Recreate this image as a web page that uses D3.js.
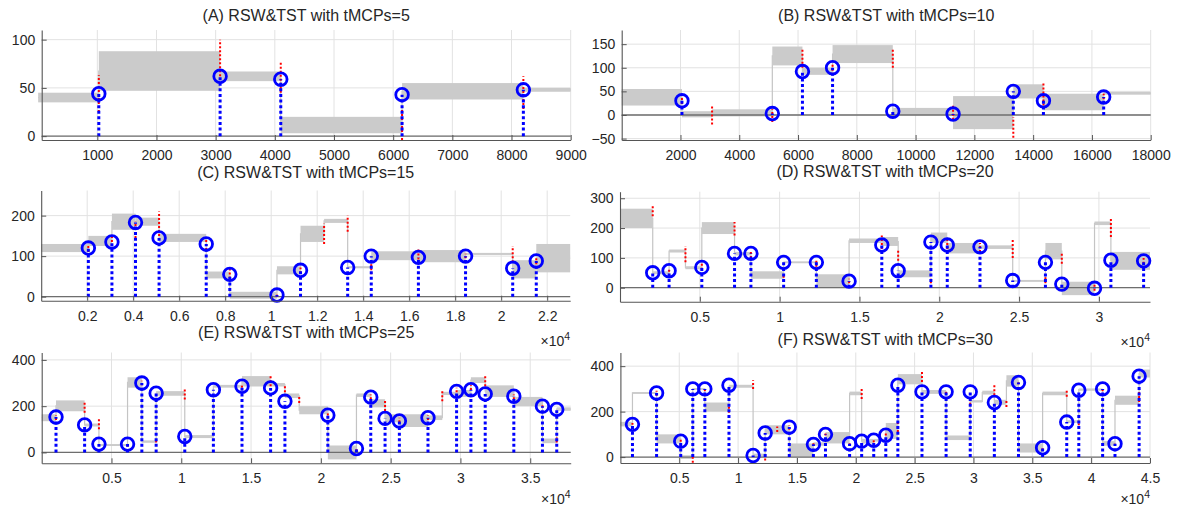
<!DOCTYPE html>
<html>
<head>
<meta charset="utf-8">
<script src="https://d3js.org/d3.v7.min.js"></script>
<style>
  body { margin: 0; background: #fff; }
  svg text { font-family: "Liberation Sans", Arial, sans-serif; fill: #262626; }
</style>
</head>
<body>
<svg width="1186" height="510"></svg>
<script>
// signal bands: [start, end, low, high]; found MCPs: [x, y]; true MCPs: [x, y0, y1]
var aBands = [[0,1025,35,45],[1025,3075,47,88],[3075,4100,57,67],[4100,6150,3,20],[6150,8200,38,55],[8200,9000,46,50]];
var aFound = [[1025,44],[3075,62],[4100,59],[6150,43],[8200,48]];
var aTrue = [[1025,25,63],[3075,62,100],[4100,45,78],[6150,-4,30],[8200,28,62]];

var bBands = [[0,2050,20,55],[2050,3075,-5,8],[3075,5125,-3,12],[5125,6150,105,145],[6150,7175,85,100],
  [7175,9225,110,148],[9225,11275,0,15],[11275,13325,-30,40],[13325,14350,35,65],[14350,16400,10,45],[16400,18000,43,49]];
var bFound = [[2050,30],[5125,3],[6150,92],[7175,100],[9225,8],[11275,2],[13325,50],[14350,30],[16400,38]];
var bTrue = [[2050,15,40],[3075,-20,18],[5125,-15,12],[6150,100,142],[7175,85,110],[9225,100,138],
  [11275,-10,20],[13325,-48,-5],[14350,20,68],[16400,25,45]];

var cBands = [[0,2050,110,130],[2050,3075,125,150],[3075,4100,165,205],[4100,5125,175,195],[5125,7175,135,155],
  [7175,8200,45,62],[8200,10250,-5,12],[10250,11275,55,75],[11275,12300,135,175],[12300,13325,182,192],
  [13325,14350,70,75],[14350,16400,90,112],[16400,18450,85,115],[18450,20500,103,108],[20500,21525,45,90],[21525,23000,60,130]];
var cFound = [[2050,120],[3075,135],[4100,183],[5125,145],[7175,130],[8200,55],[10250,4],[11275,65],
  [13325,72],[14350,100],[16400,97],[18450,100],[20500,70],[21525,88]];
var cTrue = [[2050,110,130],[3075,125,150],[4100,145,185],[5125,140,210],[7175,115,145],[8200,45,72],[10250,0,8],
  [11275,58,72],[12300,130,180],[13325,160,200],[14350,55,95],[16400,92,118],[18450,95,106],[20500,85,125],[21525,80,95]];

var dBands = [[0,2050,200,265],[2050,3075,45,55],[3075,4100,118,128],[4100,5125,62,72],[5125,7175,180,220],
  [7175,8200,108,120],[8200,10250,30,55],[10250,12300,82,88],[12300,14350,0,45],[14350,16400,150,165],
  [16400,17425,140,170],[17425,19475,35,58],[19475,20500,150,185],[20500,22550,115,150],[22550,24600,130,142],
  [24600,26650,20,26],[26650,27675,95,150],[27675,29725,-25,20],[29725,30750,210,222],[30750,33200,60,120]];
var dFound = [[2050,50],[3075,57],[5125,68],[7175,115],[8200,115],[10250,85],[12300,85],[14350,22],[16400,143],
  [17425,57],[19475,153],[20500,143],[22550,137],[24600,24],[26650,85],[27675,12],[29725,-2],[30750,92],[32800,90]];
var dTrue = [[2050,240,280],[3075,40,65],[4100,85,140],[5125,60,80],[7175,175,220],[8200,100,125],[10250,20,40],
  [12300,70,90],[14350,15,30],[16400,130,175],[17425,90,130],[19475,15,30],[20500,130,160],[22550,120,150],
  [24600,100,160],[26650,15,35],[27675,80,120],[29725,-10,10],[30750,170,235],[32800,80,100]];

var eBands = [[0,1025,135,165],[1025,3075,178,225],[3075,4100,112,125],[4100,6150,28,36],[6150,7175,280,325],
  [7175,8200,42,52],[8200,10250,245,265],[10250,12300,62,75],[12300,14350,280,292],[14350,16400,285,330],
  [16400,17425,285,300],[17425,18450,235,255],[18450,20500,165,200],[20500,22550,-30,30],[22550,23575,240,255],
  [23575,24600,195,230],[24600,25625,130,165],[25625,27675,110,165],[27675,28700,140,160],[28700,29725,248,262],
  [29725,30750,240,270],[30750,31775,300,325],[31775,33825,240,290],[33825,35875,200,240],[35875,36900,40,60],[36900,37900,180,195]];
var eFound = [[1025,153],[3075,119],[4100,36],[6150,36],[7175,300],[8200,256],[10250,69],[12300,271],[14350,286],
  [16400,279],[17425,221],[20500,161],[22550,17],[23575,239],[24600,147],[25625,136],[27675,150],[29725,264],
  [30750,271],[31775,253],[33825,243],[35875,200],[36900,186]];
var eTrue = [[1025,140,160],[3075,171,221],[4100,100,143],[6150,25,40],[7175,290,310],[8200,43,57],[10250,229,279],
  [12300,50,64],[14350,280,295],[16400,286,336],[17425,243,293],[18450,214,243],[20500,160,175],[22550,5,15],
  [23575,230,250],[24600,179,229],[25625,130,150],[27675,140,160],[28700,221,271],[29725,260,280],[30750,270,290],
  [31775,286,329],[33825,230,250],[35875,195,210],[36900,43,64]];

var fBands = [[0,1025,135,155],[1025,3075,278,286],[3075,5125,60,100],[5125,6150,-8,8],[6150,7175,296,304],
  [7175,9225,200,240],[9225,11275,305,318],[11275,12300,0,15],[12300,14350,100,140],[14350,16400,0,60],
  [16400,17425,50,65],[17425,19475,60,110],[19475,20500,272,288],[20500,21525,60,80],[21525,22550,68,80],
  [22550,23575,80,150],[23575,25625,320,365],[25625,27675,278,295],[27675,29725,75,95],[29725,30750,240,250],
  [30750,31775,275,292],[31775,32800,230,252],[32800,33825,310,360],[33825,35875,20,60],[35875,37925,272,288],
  [37925,38950,150,162],[38950,40975,292,302],[40975,42025,50,70],[42025,44075,230,270],[44075,45000,350,385]];
var fFound = [[1025,144],[3075,282],[5125,70],[6150,300],[7175,300],[9225,316],[11275,7],[12300,106],[14350,132],
  [16400,56],[17425,100],[19475,59],[20500,70],[21525,74],[22550,96],[23575,316],[25625,287],[27675,287],
  [29725,287],[31775,240],[33825,328],[35875,41],[37925,154],[38950,294],[40975,300],[42025,59],[44075,356]];
var fTrue = [[1025,125,150],[3075,270,292],[5125,50,80],[6150,-25,0],[7175,290,305],[9225,195,225],[11275,300,338],
  [12300,-15,15],[13325,110,135],[14350,120,140],[16400,52,68],[17425,95,110],[19475,52,65],[20500,256,300],
  [21525,65,80],[22550,95,110],[23575,110,154],[25625,330,378],[27675,278,295],[29725,230,250],[31775,272,316],
  [32800,220,250],[33825,320,335],[35875,30,45],[37925,265,300],[38950,140,160],[40975,290,305],[42025,50,65],[44075,225,300]];

// tick values
var aXTicks = d3.range(1000, 9001, 1000), aYTicks = [0, 50, 100];
var bXTicks = d3.range(2000, 18001, 2000), bYTicks = [-50, 0, 50, 100, 150];
var cXTicks = d3.range(2000, 22001, 2000), cYTicks = [0, 100, 200];
var dXTicks = d3.range(5000, 30001, 5000), dYTicks = [0, 100, 200, 300];
var eXTicks = d3.range(5000, 35001, 5000), eYTicks = [0, 200, 400];
var fXTicks = d3.range(5000, 45001, 5000), fYTicks = [0, 200, 400];

var panels = [
  {title: "(A) RSW&TST with tMCPs=5", bands: aBands, found: aFound, truth: aTrue, xd: [60, 9000], yd: [-4, 110],
   xt: aXTicks, yt: aYTicks, exp: false, box: [41.7, 570.7, 30, 140], ty: 17},
  {title: "(B) RSW&TST with tMCPs=10", bands: bBands, found: bFound, truth: bTrue, xd: [0, 18000], yd: [-53, 180],
   xt: bXTicks, yt: bYTicks, exp: false, box: [621.7, 1150.7, 30, 140], ty: 17},
  {title: "(C) RSW&TST with tMCPs=15", bands: cBands, found: cFound, truth: cTrue, xd: [0, 23000], yd: [-10, 262],
   xt: cXTicks, yt: cYTicks, exp: true, box: [41.2, 570.2, 190.5, 300.7], ty: 174},
  {title: "(D) RSW&TST with tMCPs=20", bands: dBands, found: dFound, truth: dTrue, xd: [0, 33200], yd: [-47, 322],
   xt: dXTicks, yt: dYTicks, exp: true, box: [620, 1150, 191.7, 301.7], ty: 173},
  {title: "(E) RSW&TST with tMCPs=25", bands: eBands, found: eFound, truth: eTrue, xd: [0, 37900], yd: [-47, 432],
   xt: eXTicks, yt: eYTicks, exp: true, box: [41.7, 570.7, 352.5, 463.3], ty: 334},
  {title: "(F) RSW&TST with tMCPs=30", bands: fBands, found: fFound, truth: fTrue, xd: [0, 45000], yd: [-26, 460],
   xt: fXTicks, yt: fYTicks, exp: true, box: [620.4, 1150, 352.5, 463], ty: 341}
];

var svg = d3.select("svg");

panels.forEach(drawPanel);

function drawPanel(p) {
  var g = svg.append("g");
  var x = d3.scaleLinear().domain(p.xd).range([p.box[0], p.box[1]]);
  var y = d3.scaleLinear().domain(p.yd).range([p.box[3], p.box[2]]);

  // grid
  g.selectAll(".gx").data(p.xt).enter().append("line")
    .attr("x1", d => x(d)).attr("x2", d => x(d))
    .attr("y1", p.box[2]).attr("y2", p.box[3])
    .attr("stroke", "#e2e2e2").attr("stroke-width", 1);
  g.selectAll(".gy").data(p.yt).enter().append("line")
    .attr("x1", p.box[0]).attr("x2", p.box[1])
    .attr("y1", d => y(d)).attr("y2", d => y(d))
    .attr("stroke", "#e2e2e2").attr("stroke-width", 1);

  // signal: thin step line through band centres, then the noisy band
  var pts = p.bands.map(b => [b[0], (b[2] + b[3]) / 2]);
  var last = p.bands[p.bands.length - 1];
  pts.push([last[1], (last[2] + last[3]) / 2]);
  g.append("path")
    .attr("d", d3.line().x(d => x(d[0])).y(d => y(d[1])).curve(d3.curveStepAfter)(pts))
    .attr("fill", "none").attr("stroke", "#c4c4c4").attr("stroke-width", 1.2);
  g.selectAll(".band").data(p.bands).enter().append("rect")
    .attr("x", d => x(d[0])).attr("width", d => x(d[1]) - x(d[0]))
    .attr("y", d => y(d[3])).attr("height", d => y(d[2]) - y(d[3]))
    .attr("fill", "#cbcbcb");

  // zero line
  g.append("line")
    .attr("x1", p.box[0]).attr("x2", p.box[1])
    .attr("y1", y(0)).attr("y2", y(0))
    .attr("stroke", "#6e6e6e").attr("stroke-width", 1.3);

  // true change points (red dotted)
  g.selectAll(".tr").data(p.truth).enter().append("line")
    .attr("x1", d => x(d[0])).attr("x2", d => x(d[0]))
    .attr("y1", d => y(d[1])).attr("y2", d => y(d[2]))
    .attr("stroke", "#ff0000").attr("stroke-width", 2)
    .attr("stroke-dasharray", "2,2");

  // detected change points: dotted stems + circles
  g.selectAll(".st").data(p.found).enter().append("line")
    .attr("x1", d => x(d[0])).attr("x2", d => x(d[0]))
    .attr("y1", y(0)).attr("y2", d => y(d[1]))
    .attr("stroke", "#0000ff").attr("stroke-width", 3)
    .attr("stroke-dasharray", "3,2.6");
  g.selectAll(".ci").data(p.found).enter().append("circle")
    .attr("cx", d => x(d[0])).attr("cy", d => y(d[1])).attr("r", 6.3)
    .attr("fill", "none").attr("stroke", "#0000ff").attr("stroke-width", 2.8);

  // axes
  var fmt = p.exp ? (d => d3.format("~g")(d / 1e4)) : d3.format("d");
  var xa = g.append("g").attr("transform", "translate(0," + p.box[3] + ")")
    .call(d3.axisBottom(x).tickValues(p.xt).tickFormat(fmt).tickSizeInner(-5).tickSizeOuter(0).tickPadding(10));
  var ya = g.append("g").attr("transform", "translate(" + p.box[0] + ",0)")
    .call(d3.axisLeft(y).tickValues(p.yt).tickSizeInner(-5).tickSizeOuter(0).tickPadding(6.5));
  [xa, ya].forEach(a => {
    a.select(".domain").attr("stroke", "#555").attr("stroke-width", 1.1);
    a.selectAll(".tick line").attr("stroke", "#555");
    a.selectAll("text").attr("font-size", 14).attr("fill", "#262626");
  });

  // title
  g.append("text")
    .attr("x", (p.box[0] + p.box[1]) / 2).attr("y", p.ty)
    .attr("text-anchor", "middle").attr("dominant-baseline", "middle")
    .attr("font-size", 16).text(p.title);

  // x10^4 exponent label
  if (p.exp) {
    var t = g.append("text")
      .attr("x", p.box[1]).attr("y", Math.min(p.box[3] + 45, 504))
      .attr("text-anchor", "end").attr("font-size", 14);
    t.append("tspan").text("\u00d710");
    t.append("tspan").attr("dy", -6).attr("font-size", 10.5).text("4");
  }
}
</script>
</body>
</html>
